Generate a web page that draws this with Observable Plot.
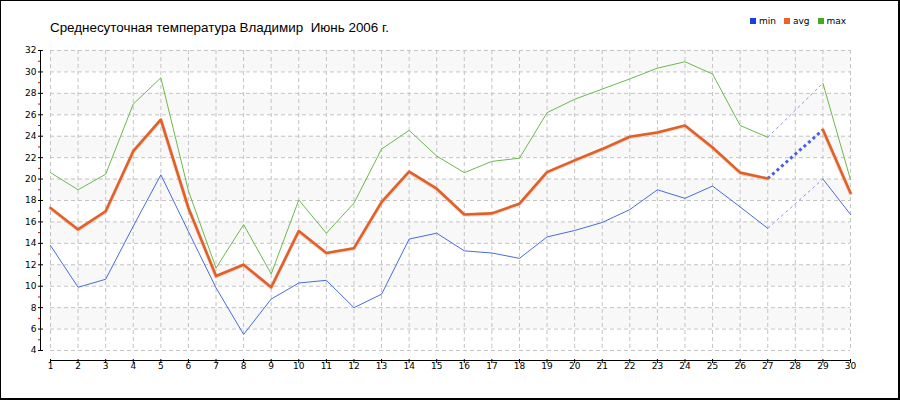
<!DOCTYPE html>
<html><head><meta charset="utf-8">
<script src="https://cdn.jsdelivr.net/npm/d3@7"></script>
<script src="https://cdn.jsdelivr.net/npm/@observablehq/plot@0.6"></script>
<style>
html,body{margin:0;padding:0;background:#fff;}
#wrap{position:relative;width:900px;height:400px;overflow:hidden;}
#border{position:absolute;left:0;top:0;width:900px;height:400px;box-sizing:border-box;border-left:1px solid #000;border-top:1px solid #000;border-right:2px solid #000;border-bottom:2px solid #000;pointer-events:none;}
#title{position:absolute;left:50px;top:20px;font:13.4px "Liberation Sans",Arial,sans-serif;white-space:pre;color:#000;}
#legend{position:absolute;left:750px;top:16px;font:9px "DejaVu Sans",Verdana,sans-serif;color:#000;white-space:nowrap;}
#legend span.sw{display:inline-block;width:6px;height:6px;margin-right:3px;vertical-align:0px;}
#legend span.it{margin-right:8px;}
</style></head>
<body><div id="wrap"></div>
<script>
const days = [1,2,3,4,5,6,7,8,9,10,11,12,13,14,15,16,17,18,19,20,21,22,23,24,25,26,27,28,29,30];
const minT = [13.8,9.9,10.65,15.6,20.4,15.1,9.85,5.5,8.8,10.3,10.55,8.0,9.25,14.4,14.95,13.3,13.1,12.6,14.6,15.2,15.95,17.15,19.0,18.2,19.35,17.4,15.4,null,20.0,16.7];
const avgT = [17.3,15.3,17.0,22.6,25.55,17.3,10.95,12.0,9.9,15.15,13.1,13.55,17.85,20.7,19.1,16.7,16.8,17.7,20.65,21.75,22.8,23.95,24.35,25.0,22.95,20.6,20.05,null,24.6,18.7];
const maxT = [20.6,19.0,20.45,27.0,29.45,18.9,11.7,15.75,11.15,18.05,14.95,17.75,22.8,24.55,22.15,20.6,21.65,21.95,26.2,27.45,28.4,29.35,30.35,30.95,29.8,25.0,23.9,null,28.95,19.95];
const seriesNames = ["min","avg","max"];
const seriesColors = ["#1a3fe0","#e8642c","#44aa22"];
const lineColors = ["#4a6be0","#e0602a","#6cb84c"];
const bandLow = [6,10,14,18,22,26,30];
const bandHigh = [8,12,16,20,24,28,32];
const yMajor = [4,6,8,10,12,14,16,18,20,22,24,26,28,30,32];
const yMinor = [5,7,9,11,13,15,17,19,21,23,25,27,29,31];
const titleText = "Среднесуточная температура Владимир  Июнь 2006 г.";

const toRows = arr => days.map((d,i) => ({day:d, v:arr[i]}));
function gaps(arr){
  const segs=[]; let k=0;
  for(let i=1;i<arr.length;i++){
    if(arr[i]==null && arr[i-1]!=null){
      let j=i; while(j<arr.length && arr[j]==null) j++;
      if(j<arr.length){ segs.push({day:days[i-1],v:arr[i-1],g:k},{day:days[j],v:arr[j],g:k}); k++; }
    }
  }
  return segs;
}
const bands = bandLow.map((l,i)=>({lo:l,hi:bandHigh[i]}));
const x0 = d3.min(days), x1 = d3.max(days);

const chart = Plot.plot({
  width:900, height:400,
  marginLeft:50, marginRight:50, marginTop:50, marginBottom:50,
  style:{fontFamily:"'DejaVu Sans', Verdana, sans-serif", fontSize:"9px", color:"#000", background:"#fff"},
  x:{domain:[x0,x1]},
  y:{domain:[d3.min(yMajor), d3.max(yMajor)]},
  marks:[
    Plot.rect(bands,{x1:()=>x0,x2:()=>x1,y1:"lo",y2:"hi",fill:"#f8f8f8"}),
    Plot.gridY(yMajor,{stroke:"#c4c4c4",strokeOpacity:1,strokeDasharray:"4,3"}),
    Plot.gridX(days,{stroke:"#c4c4c4",strokeOpacity:1,strokeDasharray:"4,3"}),
    Plot.frame({anchor:"left",dx:-10,stroke:"#000"}),
    Plot.frame({anchor:"bottom",dy:10,stroke:"#000"}),
    Plot.axisY(yMajor,{tickSize:5,dx:-7,tickPadding:2,label:null,stroke:"#000"}),
    Plot.axisY(yMinor,{tickSize:2,dx:-10,text:null,label:null,stroke:"#e00000"}),
    Plot.axisX(days,{tickSize:4,dy:9,text:null,label:null,stroke:"#000"}),
    Plot.axisX(days,{tickSize:0,dy:10,tickPadding:2,label:null,tickFormat:d=>String(d)}),
    Plot.line(gaps(minT),{x:"day",y:"v",z:"g",stroke:"#8898f0",strokeWidth:1,strokeDasharray:"3,3",strokeLinecap:"butt"}),
    Plot.line(gaps(maxT),{x:"day",y:"v",z:"g",stroke:"#8898f0",strokeWidth:1,strokeDasharray:"3,3",strokeLinecap:"butt"}),
    Plot.line(gaps(avgT),{x:"day",y:"v",z:"g",stroke:"#4a5ee8",strokeWidth:3,strokeDasharray:"3,3",strokeLinecap:"butt"}),
    Plot.line(toRows(minT),{x:"day",y:"v",stroke:lineColors[0],strokeWidth:1}),
    Plot.line(toRows(maxT),{x:"day",y:"v",stroke:lineColors[2],strokeWidth:1}),
    Plot.line(toRows(avgT),{x:"day",y:"v",stroke:"#f2b89c",strokeWidth:3.8,strokeOpacity:0.5,dy:0.5}),
    Plot.line(toRows(avgT),{x:"day",y:"v",stroke:lineColors[1],strokeWidth:2.6})
  ]
});
const wrap = document.getElementById("wrap");
wrap.appendChild(chart);
const t = document.createElement("div"); t.id="title"; t.textContent=titleText; wrap.appendChild(t);
const lg = document.createElement("div"); lg.id="legend";
seriesNames.forEach((n,i)=>{
  const s=document.createElement("span"); s.className="sw"; s.style.background=seriesColors[i]; lg.appendChild(s);
  const l=document.createElement("span"); l.className="it"; l.textContent=n; lg.appendChild(l);
});
wrap.appendChild(lg);
const b=document.createElement("div"); b.id="border"; wrap.appendChild(b);
</script></body></html>
